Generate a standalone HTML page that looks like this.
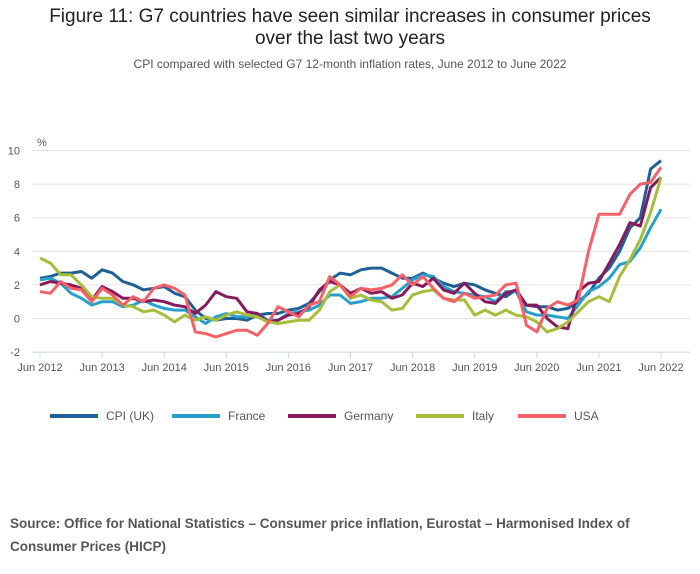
<!DOCTYPE html>
<html><head><meta charset="utf-8"><style>
body{margin:0;background:#fff;font-family:"Liberation Sans",sans-serif;}
#wrap{position:relative;width:700px;height:574px;overflow:hidden}
h1{position:absolute;top:6px;left:0;width:700px;margin:0;text-align:center;font-weight:normal;font-size:19px;line-height:22px;color:#222}
.sub{position:absolute;top:57px;left:0;width:700px;text-align:center;font-size:12px;color:#555}
.src{position:absolute;top:512px;left:10px;width:680px;font-size:13.5px;font-weight:bold;line-height:23px;color:#555}
</style></head><body>
<div id="wrap">
<h1>Figure 11: G7 countries have seen similar increases in consumer prices<br>over the last two years</h1>
<div class="sub">CPI compared with selected G7 12-month inflation rates, June 2012 to June 2022</div>
<svg id="svg" width="700" height="574" style="position:absolute;left:0;top:0"></svg>
<div class="src">Source: Office for National Statistics – Consumer price inflation, Eurostat – Harmonised Index of Consumer Prices (HICP)</div>
</div>
<script>
const xTickLabels=["Jun 2012","Jun 2013","Jun 2014","Jun 2015","Jun 2016","Jun 2017","Jun 2018","Jun 2019","Jun 2020","Jun 2021","Jun 2022"];
const yTicks=[-2,0,2,4,6,8,10];
const seriesNames=["CPI (UK)","France","Germany","Italy","USA"];
const ukValues=[2.4,2.5,2.7,2.7,2.8,2.4,2.9,2.7,2.2,2.0,1.7,1.8,1.9,1.5,1.3,0.5,0.0,-0.1,0.0,0.0,-0.1,0.2,0.3,0.3,0.5,0.6,0.9,1.6,2.3,2.7,2.6,2.9,3.0,3.0,2.7,2.4,2.4,2.7,2.4,2.1,1.9,2.1,2.0,1.7,1.5,1.3,1.7,0.8,0.7,0.7,0.5,0.6,1.0,1.5,2.4,3.0,4.0,5.4,6.0,8.9,9.4];
const franceValues=[2.3,2.4,2.1,1.5,1.2,0.8,1.0,1.0,0.7,0.8,1.1,0.8,0.6,0.5,0.5,0.1,-0.3,0.1,0.3,0.1,0.1,0.3,-0.1,-0.1,0.3,0.4,0.5,0.8,1.4,1.4,0.9,1.0,1.2,1.2,1.3,1.8,2.3,2.6,2.5,1.9,1.6,1.5,1.4,1.3,1.0,1.6,1.6,0.4,0.2,0.2,0.1,0.0,0.8,1.6,1.9,2.4,3.2,3.4,4.2,5.4,6.5];
const germanyValues=[2.0,2.2,2.1,2.0,1.8,1.1,1.9,1.6,1.2,1.2,1.0,1.1,1.0,0.8,0.7,0.3,0.8,1.6,1.3,1.2,0.4,0.3,-0.2,-0.1,0.2,0.3,0.7,1.7,2.2,2.0,1.5,1.8,1.5,1.6,1.2,1.4,2.1,1.9,2.4,1.7,1.5,2.1,1.5,1.0,0.9,1.5,1.7,0.8,0.8,0.0,-0.5,-0.6,1.6,2.1,2.2,3.3,4.4,5.7,5.5,7.8,8.4];
const italyValues=[3.6,3.3,2.6,2.6,2.0,1.3,1.2,1.2,0.8,0.7,0.4,0.5,0.2,-0.2,0.2,-0.1,0.1,-0.1,0.2,0.4,0.2,0.1,-0.2,-0.3,-0.2,-0.1,-0.1,0.5,1.6,2.0,1.2,1.4,1.1,1.0,0.5,0.6,1.4,1.6,1.7,1.2,1.1,1.1,0.2,0.5,0.2,0.5,0.2,0.1,-0.2,-0.8,-0.6,-0.2,0.4,1.0,1.3,1.0,2.5,3.5,4.7,6.3,8.4];
const usaValues=[1.6,1.5,2.2,1.8,1.7,1.0,1.8,1.4,0.8,1.3,1.0,1.8,2.0,1.8,1.4,-0.8,-0.9,-1.1,-0.9,-0.7,-0.7,-1.0,-0.3,0.7,0.4,0.1,0.8,1.0,2.5,2.0,1.3,1.8,1.7,1.8,2.0,2.6,2.0,2.5,1.8,1.2,1.0,1.5,1.2,1.3,1.4,2.0,2.1,-0.4,-0.8,0.6,1.0,0.8,1.1,4.0,6.2,6.2,6.2,7.4,8.0,8.1,9.0];
const colors=["#206095","#27a0cc","#871a5b","#a8bd3a","#f66068"];
const allSeries=[ukValues,franceValues,germanyValues,italyValues,usaValues];
const NS="http://www.w3.org/2000/svg";
const svg=document.getElementById('svg');
const X0=40,X1=661,Y0=318.5,PXU=16.8;
function xScale(monthIdx){return X0+(X1-X0)*monthIdx/120;}
function yScale(v){return Y0-v*PXU;}
function mk(tag,attrs){const e=document.createElementNS(NS,tag);for(const k in attrs)e.setAttribute(k,attrs[k]);svg.appendChild(e);return e;}
yTicks.forEach(t=>{
  const g=mk('line',{x1:32,x2:690,y1:yScale(t),y2:yScale(t),stroke:t===-2?'#c8d4e6':'#e2e2e2','stroke-width':1});
  
  
  const tx=mk('text',{x:20,y:yScale(t)+4,'text-anchor':'end','font-size':11,fill:'#555','font-family':'Liberation Sans, sans-serif'});
  tx.textContent=t;
  
  
});
const pc=mk('text',{x:37,y:146,'font-size':11,fill:'#555','font-family':'Liberation Sans, sans-serif'});
pc.textContent='%';


xTickLabels.forEach((l,i)=>{
  const x=xScale(i*12);
  const tk=mk('line',{x1:x,x2:x,y1:352,y2:358,stroke:'#c8d4e6'});
  
  
  const tx=mk('text',{x:x,y:371,'text-anchor':'middle','font-size':11,fill:'#555','font-family':'Liberation Sans, sans-serif'});
  tx.textContent=l;
  
  
});
allSeries.forEach((vals,s)=>{
  const pts=vals.map((v,i)=>xScale(i*2).toFixed(1)+','+yScale(v).toFixed(1)).join(' ');
  const p=mk('polyline',{points:pts,fill:'none',stroke:colors[s],'stroke-width':3,'stroke-linejoin':'round'});
  
  
});
const legX=[50,172,288,416,518];
seriesNames.forEach((n,s)=>{
  const l=mk('line',{x1:legX[s],x2:legX[s]+48,y1:416,y2:416,stroke:colors[s],'stroke-width':4});
  
  
  const t=mk('text',{x:legX[s]+56,y:420,'font-size':12,fill:'#555','font-family':'Liberation Sans, sans-serif'});
  t.textContent=n;
  
  
});
</script>
</body></html>
